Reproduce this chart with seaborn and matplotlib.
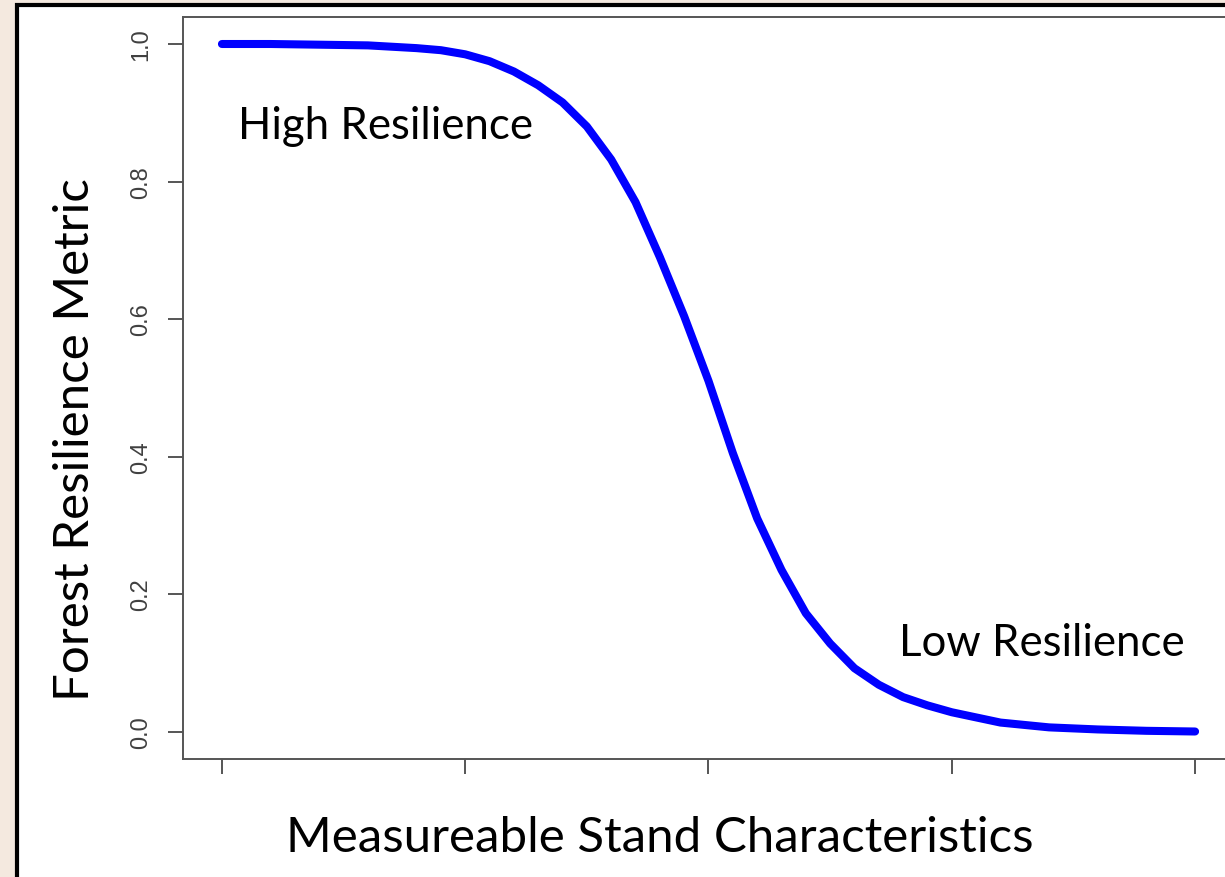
#Resilience curve: forest resilience metric against measureable stand characteristics.

from pathlib import Path

import matplotlib.pyplot as plt
from matplotlib.patches import Rectangle
import seaborn as sns

#Values
stand_characteristic = [0.0, 0.2, 0.4, 0.6, 0.7, 0.8, 0.9, 1.0, 1.1, 1.2,
                        1.3, 1.4, 1.5, 1.6, 1.7, 1.8, 1.9, 2.0, 2.1, 2.2,
                        2.3, 2.4, 2.5, 2.6, 2.7, 2.8, 2.9, 3.0, 3.2, 3.4,
                        3.6, 3.8, 4.0]
resilience_metric = [1.000, 1.000, 0.999, 0.998, 0.996, 0.994, 0.991, 0.985, 0.975, 0.960,
                     0.940, 0.915, 0.880, 0.832, 0.770, 0.690, 0.604, 0.510, 0.405, 0.310,
                     0.235, 0.172, 0.128, 0.092, 0.068, 0.050, 0.038, 0.028, 0.013, 0.006,
                     0.003, 0.001, 0.000]

x_ticks = [0, 1, 2, 3, 4]
y_ticks = [0.0, 0.2, 0.4, 0.6, 0.8, 1.0]
y_tick_labels = ["0.0", "0.2", "0.4", "0.6", "0.8", "1.0"]

WIDTH, HEIGHT = 1225, 878
TEXT_FONT = ["Lato", "DejaVu Sans"]
TICK_FONT = ["Liberation Sans", "DejaVu Sans"]


def px(x, y):
    #Convert pixel position (from top-left) to figure fraction.
    return x / WIDTH, 1 - y / HEIGHT


def save_resilience_curve_plot(output_path: Path) -> Path:
    sns.set_style("white")

    fig = plt.figure(figsize=(WIDTH / 100, HEIGHT / 100), dpi=100)
    fig.patch.set_facecolor("#f4e9df")

    #slide frame (runs off the right and bottom edges), kept behind the axes
    frame = Rectangle(px(17, 6), 1.1, -1.2, transform=fig.transFigure,
                      facecolor="white", edgecolor="black", linewidth=3.0, zorder=-5)
    fig.patches.append(frame)

    left, bottom = px(183, 760)
    right, top = px(1234, 17.5)
    ax = fig.add_axes([left, bottom, right - left, top - bottom])
    ax.set_facecolor("none")
    ax.set_zorder(2)

    sns.lineplot(x=stand_characteristic, y=resilience_metric, ax=ax,
                 color="#0000ff", linewidth=5.8, solid_capstyle="round",
                 solid_joinstyle="round", sort=False)

    ax.set_xlim(-0.16, 4.16)
    ax.set_ylim(-0.04, 1.04)

    ax.set_xticks(x_ticks)
    ax.set_xticklabels([])
    ax.set_yticks(y_ticks)
    ax.set_yticklabels(y_tick_labels, rotation=90, va="center",
                       family=TICK_FONT, fontsize=17, color="#404040")

    ax.tick_params(axis="both", direction="out", length=11, width=1.4,
                   color="#555555", left=True, bottom=True)
    ax.tick_params(axis="y", pad=11)

    for side in ["left", "bottom", "top", "right"]:
        ax.spines[side].set_color("#555555")
        ax.spines[side].set_linewidth(1.4)

    ax.set_xlabel("")
    ax.set_ylabel("")

    fig.text(*px(238, 139), "High Resilience", family=TEXT_FONT, fontsize=31.5,
             ha="left", va="baseline", color="black", zorder=3)
    fig.text(*px(899, 656), "Low Resilience", family=TEXT_FONT, fontsize=31.5,
             ha="left", va="baseline", color="black", zorder=3)
    fig.text(*px(660, 838), "Measureable Stand Characteristics", family=TEXT_FONT,
             fontsize=35.5, ha="center", va="center", color="black")
    fig.text(*px(75, 440), "Forest Resilience Metric", family=TEXT_FONT,
             fontsize=35.5, rotation=90, ha="center", va="center", color="black")

    fig.savefig(output_path, dpi=100, facecolor=fig.get_facecolor())
    plt.close(fig)

    return output_path


if __name__ == "__main__":
    save_resilience_curve_plot(Path("out.png"))
